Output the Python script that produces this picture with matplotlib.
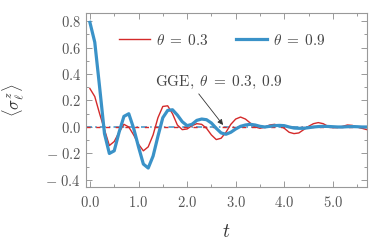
import numpy as np
import matplotlib
matplotlib.use("Agg")
import matplotlib.pyplot as plt
from matplotlib.ticker import MultipleLocator, FixedLocator, FixedFormatter

plt.rcParams['mathtext.fontset'] = 'cm'
plt.rcParams['font.family'] = ['DejaVu Serif']

# time grid, step 0.1
t = np.linspace(0, 5.7, 58)

# theta = 0.3
red = [0.29, 0.23, 0.10, -0.02, -0.14, -0.11, -0.04, 0.02, 0.00, -0.06,
       -0.13, -0.18, -0.15, -0.06, 0.07, 0.155, 0.16, 0.10, 0.015, -0.02,
       -0.015, 0.01, 0.025, 0.02, -0.01, -0.06, -0.095, -0.085, -0.04, 0.02,
       0.06, 0.075, 0.06, 0.03, 0.0, -0.01, 0.0, 0.015, 0.02, 0.01,
       -0.01, -0.04, -0.05, -0.045, -0.02, 0.005, 0.025, 0.033, 0.025, 0.005,
       -0.005, -0.005, 0.005, 0.015, 0.012, 0.0, -0.01, -0.02]

# theta = 0.9
blue = [0.79, 0.64, 0.30, -0.05, -0.20, -0.18, -0.04, 0.08, 0.10, -0.01,
        -0.15, -0.28, -0.31, -0.22, -0.07, 0.07, 0.125, 0.13, 0.09, 0.04,
        0.01, 0.02, 0.05, 0.06, 0.055, 0.03, -0.01, -0.045, -0.055, -0.04,
        -0.015, 0.005, 0.015, 0.02, 0.015, 0.005, 0.0, 0.005, 0.01, 0.012,
        0.01, 0.0, -0.008, -0.01, -0.01, -0.005, 0.0, 0.003, 0.005, 0.004,
        0.002, 0.0, 0.0, 0.002, 0.003, 0.002, 0.0, 0.0]

gge = 0.0

xticks = [0, 1, 2, 3, 4, 5]
xlabels = ['$0.0$', '$1.0$', '$2.0$', '$3.0$', '$4.0$', '$5.0$']
yticks = [-0.4, -0.2, 0.0, 0.2, 0.4, 0.6, 0.8]
ylabels = [r'$-\ 0.4$', r'$-\ 0.2$', '$0.0$', '$0.2$', '$0.4$', '$0.6$', '$0.8$']

c_red = '#d42a2a'
c_blue = '#3a92c8'
gray = '#555555'

fig = plt.figure(figsize=(3.74, 2.47), dpi=100)
ax = fig.add_axes([0.23, 0.243, 0.751, 0.704])

ax.axhline(gge, color=c_blue, lw=1.1, ls=(0, (4, 2, 1, 2)))
ax.axhline(gge, color=c_red, lw=1.0, ls=(0, (3, 4)))
ax.plot(t, red, color=c_red, lw=1.0, label=r'$\theta \;=\; 0.3$')
ax.plot(t, blue, color=c_blue, lw=2.3, label=r'$\theta \;=\; 0.9$')

ax.set_xlim(-0.08, 5.7)
ax.set_ylim(-0.453, 0.86)

ax.xaxis.set_major_locator(FixedLocator(xticks))
ax.xaxis.set_major_formatter(FixedFormatter(xlabels))
ax.xaxis.set_minor_locator(MultipleLocator(0.5))
ax.yaxis.set_major_locator(FixedLocator(yticks))
ax.yaxis.set_major_formatter(FixedFormatter(ylabels))
ax.yaxis.set_minor_locator(MultipleLocator(0.1))
ax.tick_params(which='both', direction='in', top=True, right=True,
               color='#999999', labelcolor=gray, labelsize=10.5, width=0.7)
ax.tick_params(axis='x', which='both', pad=6)
ax.tick_params(which='major', length=4)
ax.tick_params(which='minor', length=2.5)
for s in ax.spines.values():
    s.set_color('#999999')
    s.set_linewidth(0.8)

ax.set_xlabel('$t$', fontsize=14, color='#333333', labelpad=9)
ax.set_ylabel(r'$\langle \sigma_\ell^z \rangle$', fontsize=12, color='#333333', labelpad=14)

ax.legend(loc='center', bbox_to_anchor=(0.485, 0.845), ncol=2, frameon=False,
          fontsize=11, handlelength=2.0, handletextpad=0.4, columnspacing=1.8,
          labelcolor='#444444')

ax.text(2.65, 0.34, r'$\mathrm{GGE},\;\theta \;=\; 0.3,\; 0.9$',
        ha='center', va='center', fontsize=11, color='#444444')
ax.annotate('', xy=(2.74, 0.015), xytext=(2.24, 0.25),
            arrowprops=dict(arrowstyle='-|>', color='#333333', lw=0.6,
                            shrinkA=0, shrinkB=0, mutation_scale=8))

fig.savefig('out.png', dpi=100)
